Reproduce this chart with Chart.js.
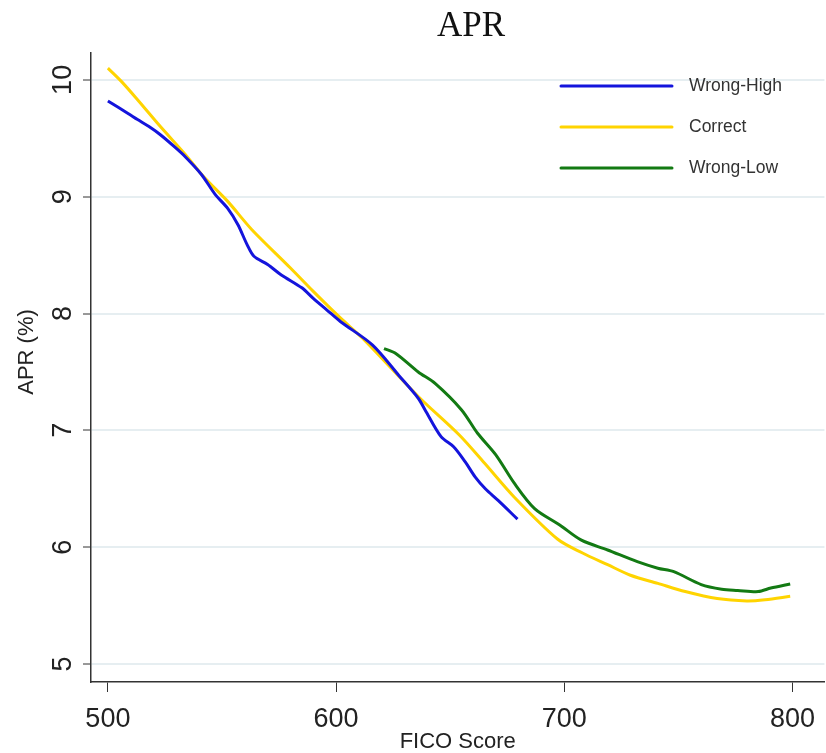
<!DOCTYPE html>
<html>
<head>
<meta charset="utf-8">
<script src="https://cdn.jsdelivr.net/npm/chart.js@4.4.0/dist/chart.umd.min.js"></script>
<style>
  html, body { margin: 0; padding: 0; background: #fff; }
  #wrap { width: 826px; height: 753px; }
</style>
</head>
<body>
<div id="wrap"><canvas id="aprChart" width="826" height="753"></canvas></div>
<script>
// values
const chartTitle = 'APR';
const xTitle = 'FICO Score';
const yTitle = 'APR (%)';
const xTicks = [500, 600, 700, 800];
const yTicks = [5, 6, 7, 8, 9, 10];

const seriesNames = ['Wrong-High', 'Correct', 'Wrong-Low'];
const seriesColors = ['#1414dc', '#ffd400', '#137a13'];

const highFico = [500, 509, 513, 518, 523, 529, 534, 541, 547, 552.5, 557, 561, 564, 570, 576, 585, 590, 596, 602, 616, 627.5, 636, 639, 646, 651.5, 656.6, 661, 665.4, 671, 679.5];
const highApr = [9.82, 9.71, 9.66, 9.60, 9.53, 9.43, 9.34, 9.19, 9.02, 8.90, 8.76, 8.59, 8.49, 8.42, 8.33, 8.22, 8.13, 8.03, 7.93, 7.73, 7.47, 7.275, 7.175, 6.946, 6.86, 6.73, 6.60, 6.50, 6.40, 6.24];

const correctFico = [500, 506, 513, 523, 534, 542, 552.5, 563, 580, 590, 602, 611.5, 636, 654, 665, 678, 697, 708, 719, 729, 741, 753, 767, 780, 788, 799];
const correctApr = [10.10, 9.985, 9.83, 9.60, 9.36, 9.17, 8.96, 8.72, 8.39, 8.19, 7.96, 7.79, 7.29, 6.96, 6.72, 6.43, 6.07, 5.95, 5.85, 5.76, 5.69, 5.62, 5.56, 5.54, 5.55, 5.58];

const lowFico = [621, 626, 636, 643.5, 655, 662, 670, 678, 687, 698, 707.5, 719, 732, 741, 748, 760, 769, 776, 785, 790.5, 799];
const lowApr = [7.70, 7.66, 7.50, 7.40, 7.175, 6.975, 6.79, 6.55, 6.33, 6.19, 6.06, 5.976, 5.876, 5.82, 5.79, 5.68, 5.64, 5.63, 5.62, 5.65, 5.685];

const toPoints = (xs, ys) => xs.map((x, i) => ({ x: x, y: ys[i] }));
const allSeries = [
    toPoints(highFico, highApr),
    toPoints(correctFico, correctApr),
    toPoints(lowFico, lowApr)
];

const sansFont = "'Liberation Sans', Arial, sans-serif";

// rotated y labels, title and inset legend
const extrasPlugin = {
    id: 'extras',
    afterDraw(chart) {
        const ctx = chart.ctx;
        const yScale = chart.scales.y;

        ctx.save();
        ctx.fillStyle = '#111';
        ctx.font = "35px 'Liberation Serif', 'Times New Roman', serif";
        ctx.textAlign = 'center';
        ctx.textBaseline = 'middle';
        ctx.fillText(chartTitle, 471, 27);

        ctx.font = '27px ' + sansFont;
        ctx.fillStyle = '#222';
        yTicks.forEach(v => {
            const py = yScale.getPixelForValue(v);
            ctx.save();
            ctx.translate(64, py);
            ctx.rotate(-Math.PI / 2);
            ctx.fillText(String(v), 0, 0);
            ctx.restore();
        });

        ctx.font = '22px ' + sansFont;
        ctx.save();
        ctx.translate(27, 352);
        ctx.rotate(-Math.PI / 2);
        ctx.fillText(yTitle, 0, 0);
        ctx.restore();

        // legend
        ctx.font = '17.5px ' + sansFont;
        ctx.textAlign = 'left';
        ctx.lineCap = 'round';
        seriesNames.forEach((name, i) => {
            const ly = 86 + i * 41;
            ctx.strokeStyle = seriesColors[i];
            ctx.lineWidth = 3;
            ctx.beginPath();
            ctx.moveTo(561, ly);
            ctx.lineTo(672, ly);
            ctx.stroke();
            ctx.fillStyle = '#333';
            ctx.fillText(name, 689, ly);
        });
        ctx.restore();
    }
};

const whiteBg = {
    id: 'whiteBg',
    beforeDraw(chart) {
        const ctx = chart.ctx;
        ctx.save();
        ctx.fillStyle = '#fff';
        ctx.fillRect(0, 0, chart.width, chart.height);
        ctx.restore();
    }
};

const ctx = document.getElementById('aprChart').getContext('2d');

const aprChart = new Chart(ctx, {
    type: 'line',
    data: {
        datasets: seriesNames.map((name, i) => ({
            label: name,
            data: allSeries[i],
            borderColor: seriesColors[i],
            borderWidth: 3,
            pointRadius: 0,
            tension: 0.3,
            fill: false
        }))
    },
    options: {
        responsive: false,
        animation: false,
        layout: {
            padding: { top: 53, right: 0, bottom: 0, left: 0 }
        },
        scales: {
            x: {
                type: 'linear',
                min: 492.6,
                max: 814,
                afterBuildTicks: scale => {
                    scale.ticks = xTicks.map(v => ({ value: v }));
                },
                afterFit: scale => {
                    scale.height = 71;
                },
                border: { display: true, color: '#333', width: 1.5 },
                grid: {
                    drawOnChartArea: false,
                    drawTicks: true,
                    tickLength: 10,
                    tickColor: '#333',
                    tickWidth: 1
                },
                ticks: {
                    color: '#222',
                    font: { family: sansFont, size: 27 },
                    padding: 11,
                    maxRotation: 0
                },
                title: {
                    display: true,
                    text: xTitle,
                    color: '#222',
                    font: { family: sansFont, size: 22, lineHeight: 1 },
                    padding: 0
                }
            },
            y: {
                type: 'linear',
                min: 4.846,
                max: 10.23,
                afterBuildTicks: scale => {
                    scale.ticks = yTicks.map(v => ({ value: v }));
                },
                afterFit: scale => {
                    scale.width = 91;
                },
                border: { display: true, color: '#333', width: 1.5 },
                grid: {
                    color: '#e6eef1',
                    lineWidth: 2,
                    tickLength: 8,
                    tickColor: '#333',
                    tickWidth: 1
                },
                ticks: { display: false }
            }
        },
        plugins: {
            legend: { display: false },
            title: { display: false },
            tooltip: { enabled: false }
        }
    },
    plugins: [whiteBg, extrasPlugin]
});
</script>
</body>
</html>
